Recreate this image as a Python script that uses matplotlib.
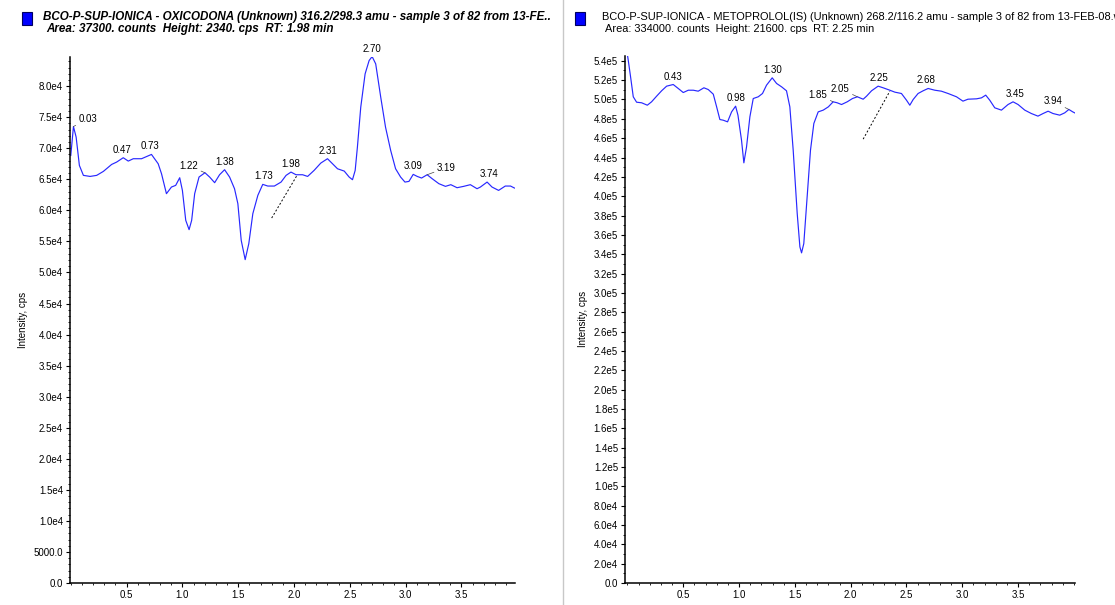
import numpy as np
import matplotlib
matplotlib.use('Agg')
import matplotlib.pyplot as plt
from matplotlib.ticker import MultipleLocator, FixedLocator, FuncFormatter
from matplotlib.patches import Rectangle
from matplotlib.lines import Line2D

plt.rcParams['font.family'] = ['Liberation Sans', 'DejaVu Sans']

# --- OXICODONA (left) ---
t_oxi = [0.0, 0.024, 0.048, 0.077, 0.113, 0.173, 0.232, 0.292, 0.366, 0.411, 0.47, 0.515,
         0.56, 0.634, 0.723, 0.783, 0.813, 0.857, 0.902, 0.94, 0.976, 1.0, 1.03, 1.06,
         1.083, 1.11, 1.149, 1.202, 1.244, 1.289, 1.333, 1.378, 1.423, 1.467, 1.497, 1.527,
         1.5625, 1.595, 1.631, 1.676, 1.72, 1.765, 1.824, 1.884, 1.929, 1.973, 2.018, 2.077,
         2.122, 2.18, 2.24, 2.30, 2.345, 2.39, 2.45, 2.494, 2.524, 2.548, 2.568, 2.598,
         2.637, 2.673, 2.70, 2.732, 2.777, 2.82, 2.866, 2.91, 2.955, 2.994, 3.03, 3.068,
         3.104, 3.143, 3.193, 3.238, 3.298, 3.357, 3.405, 3.461, 3.52, 3.58, 3.64, 3.67,
         3.73, 3.774, 3.833, 3.893, 3.94, 3.975]
i_oxi = [68850, 73500, 71800, 67240, 65640, 65470, 65640, 66280, 67400, 67780, 68480, 67940,
         68320, 68320, 69010, 67510, 65900, 62690, 63760, 64030, 65260, 63220, 58400, 56900,
         58400, 62690, 65370, 66060, 65370, 64460, 65740, 66550, 65370, 63490, 61080, 55180,
         52070, 54650, 59470, 62420, 64190, 63920, 63920, 64560, 65640, 66170, 65740, 65740,
         65470, 66440, 67620, 68320, 67510, 66700, 66330, 65370, 64940, 66440, 70190, 76620,
         81980, 84130, 84770, 83590, 78230, 73400, 69660, 66710, 65370, 64560, 64670, 65800,
         65470, 65210, 65740, 65100, 64300, 63870, 64140, 63650, 63870, 64140, 63490, 63760,
         64560, 63760, 63220, 63920, 63920, 63600]
peaks_oxi = [0.03, 0.47, 0.73, 1.22, 1.38, 1.73, 1.98, 2.31, 2.70, 3.09, 3.19, 3.74]
peak_t_oxi = [0.024, 0.47, 0.723, 1.202, 1.378, 1.72, 1.973, 2.30, 2.70, 3.068, 3.193, 3.73]
# label offset in pixels (dx, dy), alignment, leader line yes/no
off_oxi = [(5, 3, 'left', True), (-1, 3, 'center', False), (-1, 3, 'center', False),
           (-16, 2, 'center', True), (0, 3, 'center', False), (1, 3, 'center', False),
           (0, 3, 'center', False), (0, 3, 'center', False), (0, 3, 'center', False),
           (0, 3, 'center', False), (19, 2, 'center', True), (2, 3, 'center', False)]
dash_oxi_t = [1.80, 2.027]
dash_oxi_i = [58770, 65640]

# --- METOPROLOL (right) ---
t_met = [0.0, 0.007, 0.028, 0.052, 0.082, 0.127, 0.178, 0.216, 0.261, 0.306, 0.351, 0.41,
         0.455, 0.50, 0.545, 0.59, 0.634, 0.685, 0.724, 0.769, 0.799, 0.828, 0.858, 0.897,
         0.933, 0.969, 0.99, 1.022, 1.043, 1.067, 1.097, 1.127, 1.172, 1.21, 1.246, 1.297,
         1.336, 1.381, 1.425, 1.455, 1.485, 1.521, 1.545, 1.56, 1.58, 1.61, 1.64, 1.67,
         1.709, 1.754, 1.80, 1.843, 1.879, 1.918, 1.969, 2.016, 2.06, 2.112, 2.142, 2.187,
         2.246, 2.291, 2.351, 2.396, 2.455, 2.50, 2.53, 2.56, 2.604, 2.649, 2.694, 2.754,
         2.813, 2.873, 2.948, 3.006, 3.051, 3.128, 3.172, 3.21, 3.246, 3.291, 3.351, 3.41,
         3.455, 3.5, 3.56, 3.619, 3.678, 3.724, 3.769, 3.813, 3.873, 3.918, 3.955, 3.99, 4.007]
i_met = [546000, 540700, 523400, 502800, 497200, 496600, 494100, 497600, 503400, 509000, 513800, 515500,
         511400, 507200, 509600, 509600, 508600, 512100, 510300, 505500, 492400, 479300, 478600, 476900,
         487200, 493100, 483800, 457900, 434500, 451000, 482100, 501000, 502800, 506200, 514800, 522400,
         516600, 513100, 509000, 492400, 447600, 382100, 347600, 341400, 351000, 399300, 447600, 475200,
         487200, 489000, 492400, 497600, 496600, 494800, 497600, 501000, 502800, 500300, 503400, 509000,
         513800, 512100, 509600, 507600, 506200, 499300, 494100, 500000, 506200, 509000, 511400, 509600,
         508600, 506200, 502800, 498300, 500300, 500700, 501700, 504500, 499300, 491400, 489000, 494800,
         497600, 494800, 489000, 485500, 482800, 485500, 487900, 485500, 483800, 486200, 489700, 487200, 486200]
peaks_met = [0.43, 0.98, 1.30, 1.85, 2.05, 2.25, 2.68, 3.45, 3.94]
peak_t_met = [0.41, 0.969, 1.297, 1.843, 2.06, 2.246, 2.694, 3.455, 3.955]
off_met = [(0, 3, 'center', False), (0, 3, 'center', False), (0, 3, 'center', False),
           (-15, 2, 'center', True), (-17, 3, 'center', True), (1, 3, 'center', False),
           (-2, 3, 'center', False), (2, 3, 'center', False), (-16, 3, 'center', True)]
dash_met_t = [2.112, 2.351]
dash_met_i = [459000, 508600]

W, H = 1115, 605
fig = plt.figure(figsize=(W / 100, H / 100), dpi=100)
fig.patch.set_facecolor('white')


def fmt_y(v, pos):
    if v == 0:
        return '0.0'
    if v < 1e4:
        return '%.1f' % v
    e = int(np.floor(np.log10(v) + 1e-9))
    return '%.1fe%d' % (v / 10 ** e, e)


def panel(rect, t, y, ylim, xlim, ymaj, ymin, peaks, peak_t, offs, dt, di, title1, title2,
          tx, sq_x, bold):
    ax = fig.add_axes(rect)
    ax.plot(t, y, color='#2828ff', lw=0.85)
    ax.plot(dt, di, color='black', lw=0.7, ls=(0, (2, 2)))
    ax.set_xlim(*xlim)
    ax.set_ylim(*ylim)
    for s in ['top', 'right']:
        ax.spines[s].set_visible(False)
    for s in ['left', 'bottom']:
        ax.spines[s].set_linewidth(1.1)
    ax.xaxis.set_major_locator(FixedLocator([0.5, 1.0, 1.5, 2.0, 2.5, 3.0, 3.5]))
    ax.xaxis.set_minor_locator(MultipleLocator(0.1))
    ax.yaxis.set_major_locator(MultipleLocator(ymaj))
    ax.yaxis.set_minor_locator(MultipleLocator(ymin))
    ax.yaxis.set_major_formatter(FuncFormatter(fmt_y))
    ax.xaxis.set_major_formatter(FuncFormatter(lambda v, p: '%.1f' % v))
    ax.tick_params(which='major', length=3, width=0.8, labelsize=7, pad=2)
    ax.tick_params(which='minor', length=1.5, width=0.6)
    ax.set_xlabel('Time, min', fontsize=7, labelpad=5)
    ax.set_ylabel('Intensity, cps', fontsize=7, labelpad=4)
    for lab, pt, (dx, dy, ha, leader) in zip(peaks, peak_t, offs):
        yv = np.interp(pt, t, y)
        ax.annotate('%.2f' % lab, (pt, yv), xytext=(dx * 0.72, dy * 0.72),
                    textcoords='offset points', ha=ha, va='bottom', fontsize=7,
                    arrowprops=dict(arrowstyle='-', lw=0.5, color='#444444',
                                    shrinkA=0, shrinkB=0) if leader else None)
    fig.patches.append(Rectangle((sq_x / W, 1 - 25 / H), 10 / W, 13 / H,
                                 transform=fig.transFigure, facecolor='#0000ff',
                                 edgecolor='#000060', lw=0.8))
    if bold:
        kw = dict(fontsize=8.4, fontweight='bold', fontstyle='italic')
    else:
        kw = dict(fontsize=7.9)
    fig.text(tx / W, 1 - 17 / H, title1, va='center', ha='left', **kw)
    fig.text((tx + 3) / W, 1 - 29 / H, title2, va='center', ha='left', **kw)
    return ax


panel([70 / W, 22 / H, 445 / W, 526 / H], t_oxi, i_oxi, (0, 84700), (-0.007, 3.98),
      5000, 1000, peaks_oxi, peak_t_oxi, off_oxi, dash_oxi_t, dash_oxi_i,
      'BCO-P-SUP-IONICA - OXICODONA (Unknown) 316.2/298.3 amu - sample 3 of 82 from 13-FE..',
      'Area: 37300. counts  Height: 2340. cps  RT: 1.98 min', 43, 22, True)

panel([625 / W, 22 / H, 450 / W, 527.5 / H], t_met, i_met, (0, 545500), (-0.022, 4.01),
      20000, 10000, peaks_met, peak_t_met, off_met, dash_met_t, dash_met_i,
      'BCO-P-SUP-IONICA - METOPROLOL(IS) (Unknown) 268.2/116.2 amu - sample 3 of 82 from 13-FEB-08.wiff',
      'Area: 334000. counts  Height: 21600. cps  RT: 2.25 min', 602, 575, False)

fig.lines.append(Line2D([563 / W, 563 / W], [0, 1], transform=fig.transFigure,
                        color='#c8c8c8', lw=1))

fig.savefig('out.png', dpi=100)
